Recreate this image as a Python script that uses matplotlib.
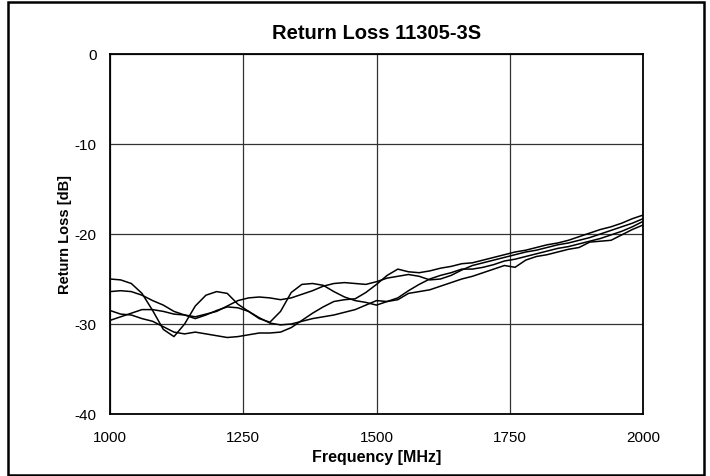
import matplotlib
matplotlib.use('Agg')
import matplotlib.pyplot as plt
from matplotlib.patches import Rectangle

plt.rcParams['font.family'] = ['Liberation Sans', 'DejaVu Sans']
plt.rcParams['axes.unicode_minus'] = False

# measurement grid (MHz) and the four return loss traces (dB)
freq_mhz = list(range(1000, 2001, 20))

rl_1 = [-25.0, -25.1, -25.5, -26.6, -28.5, -30.6, -31.4, -30.0, -28.0, -26.8,
        -26.4, -26.6, -27.8, -28.6, -29.4, -29.8, -28.6, -26.5, -25.6, -25.5,
        -25.7, -26.4, -27.0, -27.4, -27.6, -27.9, -27.5, -27.1, -26.3, -25.6,
        -25.0, -24.6, -24.3, -23.9, -23.9, -23.7, -23.4, -23.0, -22.8, -22.5,
        -22.2, -21.9, -21.6, -21.4, -21.1, -20.8, -20.5, -20.1, -19.7, -19.2,
        -18.6]
rl_2 = [-26.4, -26.3, -26.4, -26.8, -27.4, -27.9, -28.6, -29.0, -29.2, -28.9,
        -28.6, -28.0, -27.4, -27.1, -27.0, -27.1, -27.3, -27.1, -26.7, -26.3,
        -25.8, -25.5, -25.4, -25.5, -25.6, -25.3, -24.9, -24.7, -24.5, -24.7,
        -25.1, -25.0, -24.6, -24.0, -23.5, -23.2, -22.9, -22.6, -22.3, -22.0,
        -21.8, -21.5, -21.2, -21.0, -20.7, -20.4, -20.0, -19.6, -19.2, -18.8,
        -18.3]
rl_3 = [-28.5, -28.9, -29.0, -29.4, -29.7, -30.3, -30.9, -31.1, -30.9, -31.1,
        -31.3, -31.5, -31.4, -31.2, -31.0, -31.0, -30.9, -30.4, -29.6, -28.8,
        -28.1, -27.5, -27.3, -27.2, -26.5, -25.6, -24.6, -23.9, -24.2, -24.3,
        -24.1, -23.8, -23.6, -23.3, -23.2, -22.9, -22.6, -22.3, -22.0, -21.8,
        -21.5, -21.2, -21.0, -20.7, -20.3, -19.9, -19.5, -19.2, -18.8, -18.3,
        -17.9]
rl_4 = [-29.6, -29.2, -28.8, -28.4, -28.4, -28.6, -28.9, -29.0, -29.4, -29.0,
        -28.5, -28.1, -28.2, -28.6, -29.3, -29.9, -30.1, -30.0, -29.7, -29.4,
        -29.2, -29.0, -28.7, -28.4, -27.9, -27.4, -27.5, -27.3, -26.6, -26.4,
        -26.2, -25.8, -25.4, -25.0, -24.7, -24.3, -23.9, -23.5, -23.7, -22.9,
        -22.5, -22.3, -22.0, -21.7, -21.5, -20.9, -20.8, -20.7, -20.1, -19.5,
        -19.0]

x_ticks = [1000, 1250, 1500, 1750, 2000]
y_ticks = [0, -10, -20, -30, -40]

fig = plt.figure(figsize=(7.1, 4.76), dpi=100)
ax = fig.add_axes([110 / 710, 1 - 414 / 476, 533 / 710, 360 / 476])

for trace in (rl_1, rl_2, rl_3, rl_4):
    ax.plot(freq_mhz, trace, color='black', lw=1.1, zorder=3)

ax.set_xlim(1000, 2000)
ax.set_ylim(-40, 0)
ax.set_xticks(x_ticks)
ax.set_yticks(y_ticks)
ax.grid(True, color='#333333', lw=0.9)
ax.tick_params(length=0, labelsize=11)
ax.tick_params(axis='x', pad=12.5)
ax.tick_params(axis='y', pad=9.5)
for sp in ax.spines.values():
    sp.set_linewidth(1.3)

ax.set_title('Return Loss 11305-3S', fontsize=14.5, fontweight='bold', pad=11)
ax.set_xlabel('Frequency [MHz]', fontsize=11.5, fontweight='bold', labelpad=3)
ax.set_ylabel('Return Loss [dB]', fontsize=10.5, fontweight='bold', labelpad=2)

# outer frame around the whole chart
fig.patches.append(Rectangle((8 / 710, 1 / 476), 696 / 710, 473 / 476,
                             transform=fig.transFigure, fill=False,
                             edgecolor='black', lw=1.8))

fig.savefig('out.png', dpi=100)
